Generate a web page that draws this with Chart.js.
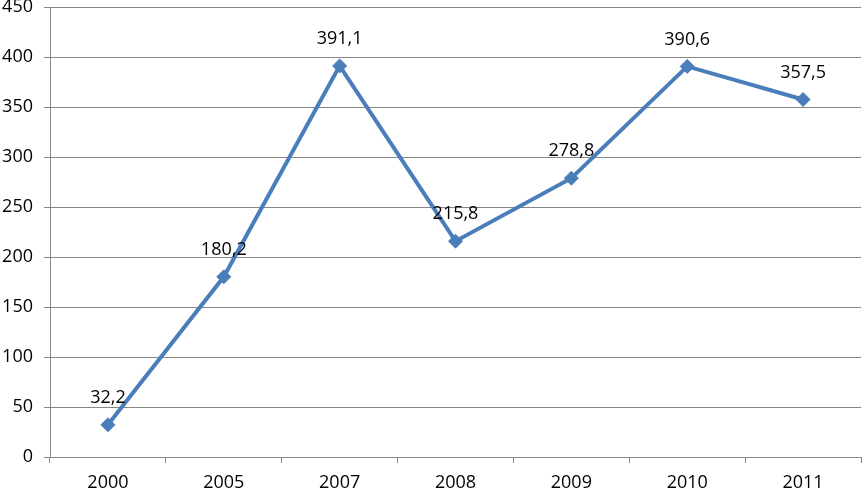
<!DOCTYPE html>
<html lang="en">
<head>
    <meta charset="UTF-8">
    <title>Line chart</title>
    <script src="https://cdn.jsdelivr.net/npm/chart.js"></script>
    <style>
        html, body { margin: 0; padding: 0; background: #fff; }
        #wrap { width: 864px; height: 491px; }
    </style>
</head>
<body>
<div id="wrap">
    <canvas id="lineChart" width="864" height="491"></canvas>
</div>
<script>
    // chart values
    const years = ['2000', '2005', '2007', '2008', '2009', '2010', '2011'];
    const values = [32.2, 180.2, 391.1, 215.8, 278.8, 390.6, 357.5];
    const yTicks = [0, 50, 100, 150, 200, 250, 300, 350, 400, 450];

    const font = { family: 'Open Sans', size: 18 };

    // draws the value above each point, with a comma as decimal mark
    const valueLabels = {
        id: 'valueLabels',
        afterDatasetsDraw(chart) {
            const ctx = chart.ctx;
            const meta = chart.getDatasetMeta(0);
            ctx.save();
            ctx.font = '18px "Open Sans"';
            ctx.fillStyle = '#000';
            ctx.textAlign = 'center';
            ctx.textBaseline = 'middle';
            meta.data.forEach((pt, i) => {
                const txt = values[i].toFixed(1).replace('.', ',');
                ctx.fillText(txt, pt.x, pt.y - 27);
            });
            ctx.restore();
        }
    };

    // keep tick labels from pushing the plot area inwards
    function noPad(scale) {
        scale.paddingTop = 0;
        scale.paddingBottom = 0;
        scale.paddingLeft = 0;
        scale.paddingRight = 0;
    }

    const ctx = document.getElementById('lineChart').getContext('2d');
    const lineChart = new Chart(ctx, {
        type: 'line',
        data: {
            labels: years,
            datasets: [{
                data: values,
                borderColor: '#4A7EBB',
                backgroundColor: '#4A7EBB',
                borderWidth: 4,
                tension: 0,
                pointStyle: 'rectRot',
                pointRadius: 7,
                pointHoverRadius: 7,
                pointBorderWidth: 1
            }]
        },
        options: {
            responsive: false,
            animation: false,
            layout: { autoPadding: false, padding: { top: 7, right: 3, left: 0, bottom: 0 } },
            plugins: {
                legend: { display: false },
                tooltip: { enabled: false }
            },
            scales: {
                x: {
                    offset: true,
                    grid: { offset: true, drawOnChartArea: false, tickLength: 6, color: '#868686' },
                    border: { color: '#868686', width: 1 },
                    ticks: { font: font, color: '#000', padding: 9, maxRotation: 0 },
                    afterFit(scale) { scale.height = 34; noPad(scale); }
                },
                y: {
                    min: 0,
                    max: 450,
                    afterBuildTicks(scale) { scale.ticks = yTicks.map(v => ({ value: v })); },
                    grid: { color: '#868686', tickLength: 6 },
                    border: { color: '#868686', width: 1 },
                    ticks: { font: font, color: '#000', padding: 11 },
                    afterFit(scale) { scale.width = 50; noPad(scale); }
                }
            }
        },
        plugins: [valueLabels]
    });
</script>
</body>
</html>
